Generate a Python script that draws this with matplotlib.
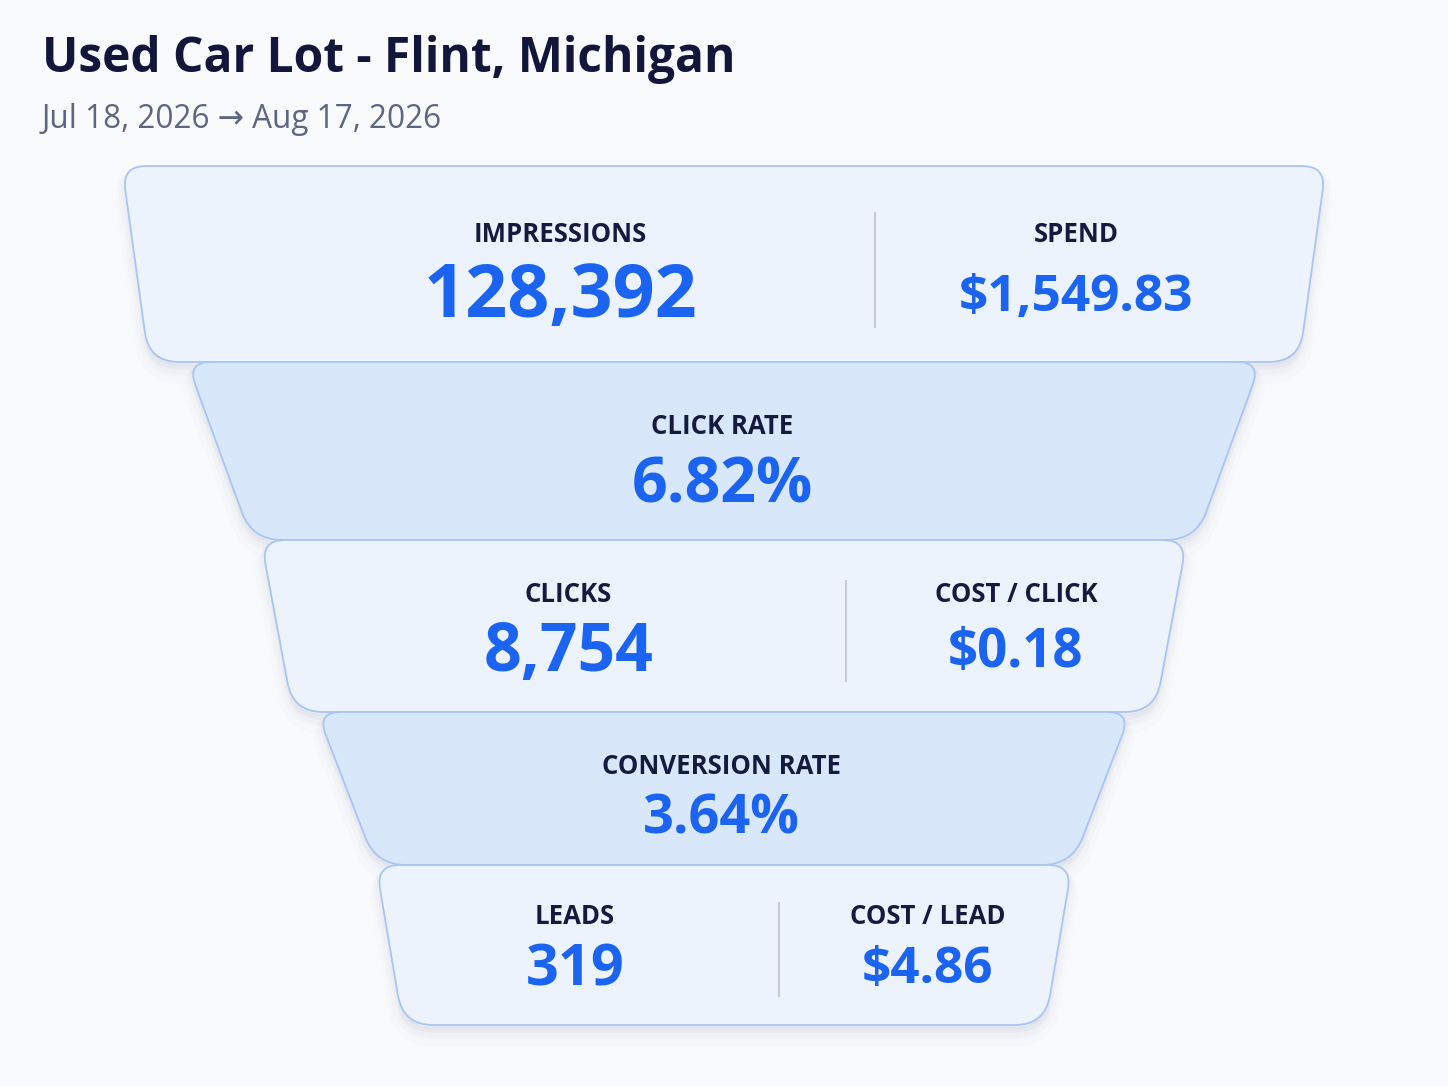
import numpy as np
import matplotlib
matplotlib.use("Agg")
import matplotlib.pyplot as plt
from matplotlib.path import Path
from matplotlib.patches import PathPatch

# chart content
title = "Used Car Lot - Flint, Michigan"
subtitle = "Jul 18, 2026 \u2192 Aug 17, 2026"
stage_labels = [["IMPRESSIONS", "SPEND"], ["CLICK RATE"], ["CLICKS", "COST / CLICK"],
                ["CONVERSION RATE"], ["LEADS", "COST / LEAD"]]
stage_values = [["128,392", "$1,549.83"], ["6.82%"], ["8,754", "$0.18"],
                ["3.64%"], ["319", "$4.86"]]

# layout (pixels, y down)
W, H = 1448, 1086
cx = 724
tops = [166, 362, 540, 712, 865]
bottoms = [362, 540, 712, 865, 1025]
top_hw = [602, 537, 463, 407, 348]
bot_hw = [575, 472, 431, 348, 321]
dividers = [875, None, 846, None, 779]
label_x = [[560, 1076], [722], [568, 1016], [721], [575, 928]]
label_y = [234, 426, 595, 766, 917]
value_y = [298, 486, 653, 820, 970]
value_size = [[53, 37], [45], [47.5, 38], [39], [41.5, 37]]

bg = "#f9fafc"
fill_light = "#edf3fd"
fill_dark = "#d9e7fb"
edge_col = "#a8c6f3"
navy = "#151a3f"
blue = "#1b64f1"
grey = "#5d6580"

plt.rcParams['font.family'] = ['Open Sans', 'DejaVu Sans']


def rounded_poly(pts, radii):
    verts, codes = [], []
    n = len(pts)
    for i in range(n):
        p0 = np.array(pts[i - 1], float)
        p1 = np.array(pts[i], float)
        p2 = np.array(pts[(i + 1) % n], float)
        d1 = (p0 - p1) / np.linalg.norm(p0 - p1)
        d2 = (p2 - p1) / np.linalg.norm(p2 - p1)
        a = p1 + d1 * radii[i]
        b = p1 + d2 * radii[i]
        verts.append(a)
        codes.append(Path.MOVETO if i == 0 else Path.LINETO)
        verts += [p1, b]
        codes += [Path.CURVE3, Path.CURVE3]
    verts.append(verts[0])
    codes.append(Path.CLOSEPOLY)
    return Path(verts, codes)


fig = plt.figure(figsize=(W / 100, H / 100), dpi=100, facecolor=bg)
ax = fig.add_axes([0, 0, 1, 1])
ax.set_xlim(0, W)
ax.set_ylim(H, 0)
ax.axis("off")
ax.set_facecolor(bg)

fig.text(42 / W, 1 - 60 / H, title, fontsize=34.5, fontweight="bold", color="#11163a",
         va="center", ha="left")
fig.text(42 / W, 1 - 119 / H, subtitle, fontsize=22.7, color=grey, va="center", ha="left")

for i in range(len(tops)):
    t, b = tops[i], bottoms[i]
    pts = [(cx - top_hw[i], t), (cx + top_hw[i], t), (cx + bot_hw[i], b), (cx - bot_hw[i], b)]
    path = rounded_poly(pts, [24, 24, 30, 30])
    # soft shadow
    for k, (dy, a, w) in enumerate([(12, 0.025, 14), (8, 0.03, 9), (4, 0.04, 5)]):
        sp = Path(path.vertices + np.array([0, dy]), path.codes)
        ax.add_patch(PathPatch(sp, facecolor="#8a93a8", edgecolor="#8a93a8", lw=w,
                               alpha=a, zorder=2 * i + 1))
    fc = fill_dark if i % 2 == 1 else fill_light
    ax.add_patch(PathPatch(path, facecolor=fc, edgecolor=edge_col, lw=1.3, zorder=2 * i + 2))

    if dividers[i] is not None:
        h = b - t
        ax.plot([dividers[i], dividers[i]], [t + 0.24 * h, b - 0.18 * h], color="#c6cad6",
                lw=1.5, zorder=20)

    for j, lab in enumerate(stage_labels[i]):
        ax.text(label_x[i][j], label_y[i], lab, fontsize=18.5, fontweight="bold",
                color=navy, ha="center", va="center", zorder=30)
        ax.text(label_x[i][j], value_y[i], stage_values[i][j], fontsize=value_size[i][j],
                fontweight="bold", color=blue, ha="center", va="center", zorder=30)

fig.savefig("out.png", dpi=100, facecolor=bg)
